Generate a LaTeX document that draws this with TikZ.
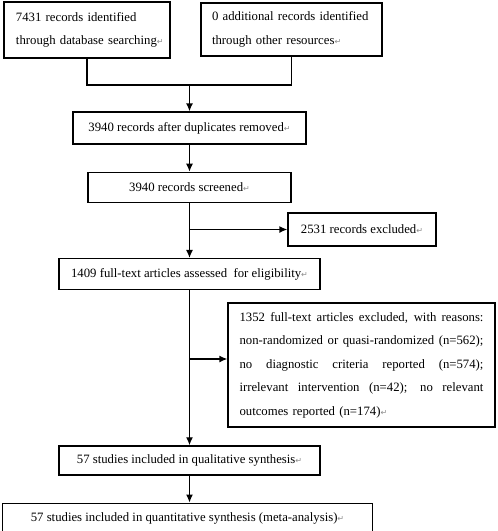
\documentclass[tikz,border=0pt]{standalone}
\usepackage{fontspec}
\setmainfont{Liberation Serif}
\newfontfamily\markfont{DejaVu Sans}
\usetikzlibrary{shapes,arrows.meta,positioning}
\newcommand{\retmark}{{\markfont\color{black!45}\fontsize{8}{8}\selectfont ↵}}
\newcommand{\fullline}[1]{\makebox[244pt][s]{\spaceskip=.25em plus 1fil\relax #1}}
\tikzstyle{box} = [draw, fill=white, rectangle, line width=1.3pt,
    inner sep=0pt, font=\fontsize{12.75}{23.5}\selectfont]
\tikzstyle{branch} = [coordinate]

\begin{document}
\begin{tikzpicture}[x=1pt, y=-1pt, node distance=27pt, >={Latex[length=8pt,width=7pt]}, line width=1.3pt]
\useasboundingbox (0,0) rectangle (498,531);

  \node [box, minimum width=166pt, minimum height=56pt, text width=142pt, align=left] (dbase) at (87,30) {\mbox{7431 records identified}\\\mbox{through database searching\retmark}};
  \node [box, minimum width=181pt, minimum height=53pt, text width=159pt, align=left] (others) at (291.5,29.5) {\mbox{0 additional records identified}\\\mbox{through other resources\retmark}};
  \node [box, minimum width=233pt, minimum height=32pt] (dedup) at (189.5,128) {3940 records after duplicates removed\retmark};
  \node [box, minimum width=203pt, minimum height=30pt, below=of dedup] (screen) {3940 records screened\retmark};
  \node [box, minimum width=148pt, minimum height=33pt] (excl) at (362,229.5) {2531 records excluded\retmark};
  \node [box, minimum width=261pt, minimum height=31pt, below=55pt of screen] (fulltext) {1409 full-text articles assessed~ for eligibility\retmark};
  \node [box, minimum width=267pt, minimum height=124pt, text width=244pt, align=left] (reasons) at (361.5,365) {\fullline{1352 full-text articles excluded, with reasons:}\\\fullline{non-randomized or quasi-randomized (n=562);}\\\fullline{no diagnostic criteria reported (n=574);}\\\fullline{irrelevant intervention (n=42); no relevant}\\\mbox{outcomes reported (n=174)\retmark}};
  \node [box, minimum width=261pt, minimum height=29pt, below=155pt of fulltext] (qual) {57 studies included in qualitative synthesis\retmark};
  \node [box, minimum width=370pt, minimum height=31pt, below=of qual, xshift=-2pt] (quant) {57 studies included in quantitative synthesis (meta-analysis)\retmark};

  \node [branch] (merge) at (189.5,85) {};
  \node [branch] (split1) at (screen.south |- excl.west) {};
  \node [branch] (split2) at (189.5,359) {};

  \draw (dbase.south) |- (merge) -| (others.south);
  \draw [->] (merge) -- (dedup);
  \draw [->] (dedup) -- (screen);
  \draw [->] (screen) -- (fulltext);
  \draw [->] (split1) -- (excl.west);
  \draw [->] (fulltext) -- (qual);
  \draw [->] (split2) -- (split2 -| reasons.west);
  \draw [->] (qual) -- (quant.north -| qual.south);

\end{tikzpicture}
\end{document}
